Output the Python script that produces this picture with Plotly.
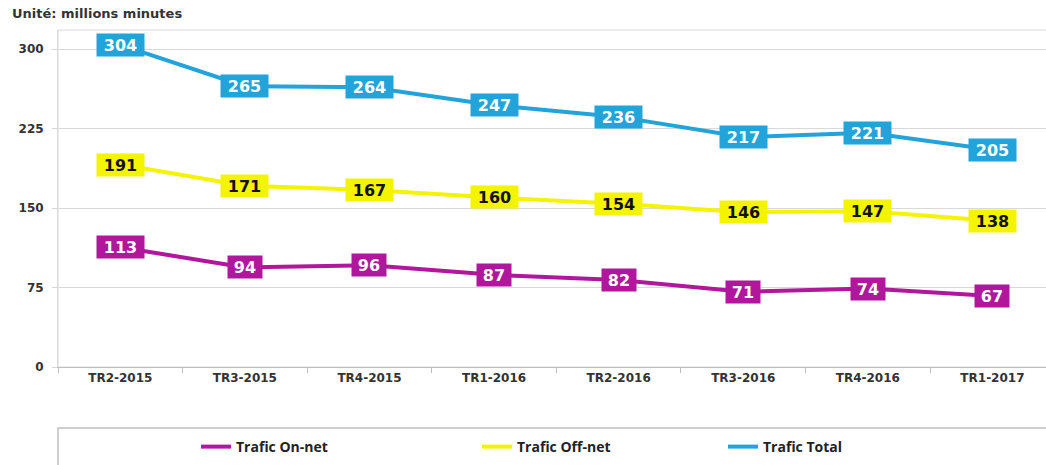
import plotly.graph_objects as go

categories = ["TR2-2015", "TR3-2015", "TR4-2015", "TR1-2016", "TR2-2016", "TR3-2016", "TR4-2016", "TR1-2017"]
on_net = [113, 94, 96, 87, 82, 71, 74, 67]
off_net = [191, 171, 167, 160, 154, 146, 147, 138]
total = [304, 265, 264, 247, 236, 217, 221, 205]
y_ticks = [0, 75, 150, 225, 300]

series = [
    ("Trafic On-net", on_net, "#B0179C", "white", "legend"),
    ("Trafic Off-net", off_net, "#F4F400", "#111111", "legend2"),
    ("Trafic Total", total, "#22A4DB", "white", "legend3"),
]

W, H = 1046, 465
L, R, T, B = 58, 0, 30, 98
pw, ph = W - L - R, H - T - B

def px(xp):
    return (xp - L) / pw

def py(yp):
    return (H - B - yp) / ph

fig = go.Figure()
annotations = []
for name, vals, color, tcolor, leg in series:
    fig.add_trace(go.Scatter(
        x=categories, y=vals, mode="lines", name=name,
        line=dict(color=color, width=4), legend=leg,
    ))
    for c, v in zip(categories, vals):
        t = str(v)
        annotations.append(dict(
            x=c, y=v, xref="x", yref="y", text=t, showarrow=False,
            bgcolor=color, borderpad=3, width=13 * len(t) + 2, height=16,
            font=dict(family="DejaVu Sans", size=16, color=tcolor, weight="bold"),
        ))

annotations.append(dict(
    x=px(10), y=py(14), xref="paper", yref="paper", text="<b>Unité: millions minutes</b>",
    showarrow=False, xanchor="left", yanchor="middle",
    font=dict(family="DejaVu Sans", size=13, color="#333333"),
))

leg_font = dict(family="Open Sans", size=14, color="#222222", weight="bold")
fig.update_layout(
    width=W, height=H,
    margin=dict(l=L, r=R, t=T, b=B, autoexpand=False),
    plot_bgcolor="white", paper_bgcolor="white",
    annotations=annotations,
    showlegend=True,
    legend=dict(x=px(196), y=py(447), xanchor="left", yanchor="middle", font=leg_font, bgcolor="rgba(0,0,0,0)"),
    legend2=dict(x=px(477), y=py(447), xanchor="left", yanchor="middle", font=leg_font, bgcolor="rgba(0,0,0,0)"),
    legend3=dict(x=px(723), y=py(447), xanchor="left", yanchor="middle", font=leg_font, bgcolor="rgba(0,0,0,0)"),
    shapes=[
        dict(type="rect", xref="paper", yref="paper", x0=0, x1=1.01, y0=py(428), y1=py(475),
             line=dict(color="#BFBFBF", width=1.5), fillcolor="rgba(0,0,0,0)", layer="below"),
        dict(type="rect", xref="paper", yref="paper", x0=0, x1=1.01, y0=0, y1=1,
             line=dict(color="#D9D9D9", width=1), fillcolor="rgba(0,0,0,0)", layer="below"),
    ],
)
fig.update_xaxes(
    type="category", range=[-0.5, 7.43], tickson="boundaries",
    ticks="outside", ticklen=5, tickcolor="#BFBFBF", showgrid=False,
    showline=True, linecolor="#BFBFBF", linewidth=1,
    tickfont=dict(family="DejaVu Sans", size=12, color="#333333", weight="bold"),
)
fig.update_yaxes(
    range=[0, 318], tickvals=y_ticks, ticks="outside", ticklen=5, tickcolor="#D9D9D9",
    showgrid=True, gridcolor="#D9D9D9", gridwidth=1, zeroline=False,
    showline=True, linecolor="#D9D9D9", ticklabelstandoff=6,
    tickfont=dict(family="DejaVu Sans", size=12, color="#333333", weight="bold"),
)

fig.write_html(
    "out.html",
    config={"displayModeBar": False},
    post_script="document.body.style.margin='0';document.body.style.overflow='hidden';",
)
